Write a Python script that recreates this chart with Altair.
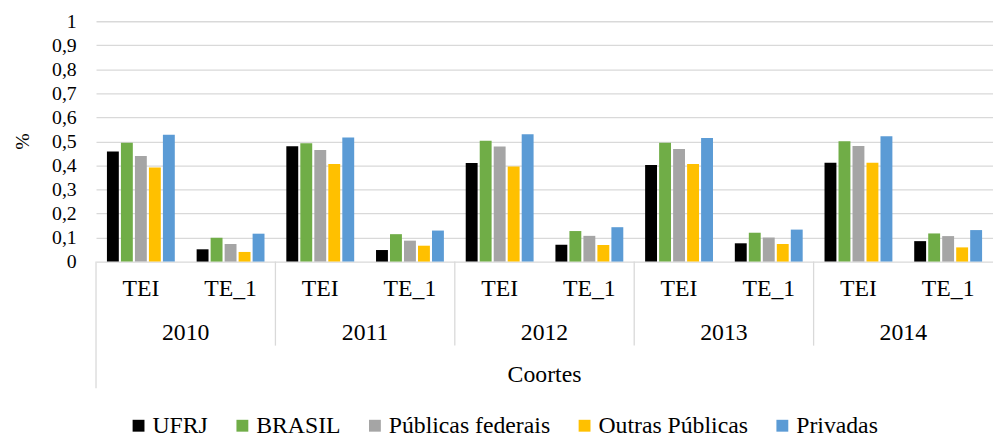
import altair as alt
import pandas as pd

years = ["2010", "2011", "2012", "2013", "2014"]
types = ["TEI", "TE_1"]
series = ["UFRJ", "BRASIL", "Públicas federais", "Outras Públicas", "Privadas"]
colors = ["#000000", "#70AD47", "#A5A5A5", "#FFC000", "#5B9BD5"]

ufrj = [0.458, 0.051, 0.480, 0.048, 0.410, 0.070, 0.402, 0.076, 0.411, 0.085]
brasil = [0.494, 0.099, 0.492, 0.114, 0.503, 0.127, 0.494, 0.120, 0.501, 0.117]
federais = [0.439, 0.073, 0.464, 0.087, 0.479, 0.107, 0.468, 0.100, 0.481, 0.106]
outras = [0.391, 0.040, 0.406, 0.066, 0.396, 0.069, 0.406, 0.073, 0.411, 0.059]
privadas = [0.528, 0.116, 0.516, 0.129, 0.530, 0.143, 0.514, 0.133, 0.521, 0.131]

y_ticks = [0, 0.1, 0.2, 0.3, 0.4, 0.5, 0.6, 0.7, 0.8, 0.9, 1]
x_title = "Coortes"
y_title = "%"

cats = [f"{y}|{t}" for y in years for t in types]
rows = []
for s, vals in zip(series, [ufrj, brasil, federais, outras, privadas]):
    for c, v in zip(cats, vals):
        rows.append({"cat": c, "series": s, "value": v})
df = pd.DataFrame(rows)

lab_df = pd.DataFrame({"cat": cats, "label": [t for y in years for t in types]})
yr_df = pd.DataFrame({"year": years, "idx": list(range(len(years)))})

W, H = 907, 243
FONT = "Liberation Serif"
GRID = "#D9D9D9"

xband = alt.Scale(domain=cats, paddingInner=0.22, paddingOuter=0.11)
xq = alt.Scale(domain=[0, len(years)])

bars = alt.Chart(df).mark_bar().encode(
    x=alt.X("cat:N", scale=xband, axis=None, sort=cats),
    xOffset=alt.XOffset("series:N", scale=alt.Scale(domain=series, paddingInner=0.15, paddingOuter=0.075), sort=series),
    y=alt.Y("value:Q", scale=alt.Scale(domain=[0, 1]),
            axis=alt.Axis(values=y_ticks, title=y_title, grid=True, gridColor=GRID, gridWidth=1.3,
                          domain=False, ticks=False, tickSize=0, labelPadding=20,
                          labelFontSize=20, labelColor="#000000",
                          labelExpr="replace(format(datum.value, '.1~f'), '.', ',')",
                          titleFontSize=20, titleFontWeight="normal", titleColor="#000000",
                          titleX=-74, titleY=121, titleAngle=270, titleBaseline="middle")),
    color=alt.Color("series:N", scale=alt.Scale(domain=series, range=colors), sort=series,
                    legend=alt.Legend(title=None, orient="none", legendX=31, legendY=397, direction="horizontal",
                                      symbolType="square", symbolSize=144, symbolStrokeWidth=0,
                                      labelFontSize=24, labelColor="#000000", labelOffset=2,
                                      columnPadding=22, padding=0, labelLimit=400)),
)

labels = alt.Chart(lab_df).mark_text(fontSize=24, color="#000000", baseline="middle").encode(
    x=alt.X("cat:N", scale=xband, axis=None, sort=cats),
    y=alt.value(271),
    text="label:N",
)

seps = alt.Chart(yr_df).transform_filter("datum.idx > 0").mark_rule(color=GRID, strokeWidth=1.3).encode(
    x=alt.X("idx:Q", scale=xq, axis=None),
    y=alt.value(243),
    y2=alt.value(328),
)

left_line = alt.Chart(yr_df).transform_filter("datum.idx == 0").mark_rule(color=GRID, strokeWidth=1.3).encode(
    x=alt.X("idx:Q", scale=xq, axis=None),
    y=alt.value(243),
    y2=alt.value(371),
)

year_text = alt.Chart(yr_df).transform_calculate(pos="datum.idx + 0.5").mark_text(
    fontSize=24, color="#000000", baseline="middle").encode(
    x=alt.X("pos:Q", scale=xq, axis=None),
    y=alt.value(315),
    text="year:N",
)

coortes = alt.Chart(pd.DataFrame({"t": [x_title]})).mark_text(
    fontSize=24, color="#000000", baseline="middle").encode(
    x=alt.value(W / 2),
    y=alt.value(358),
    text="t:N",
)

chart = alt.layer(bars, labels, seps, left_line, year_text, coortes).resolve_scale(
    x="independent"
).properties(
    width=W, height=H,
    autosize=alt.AutoSizeParams(type="none"),
    padding={"left": 89, "top": 11, "right": 0, "bottom": 175},
    background="white",
).configure(
    font=FONT
).configure_text(
    font=FONT
).configure_axis(
    labelFont=FONT, titleFont=FONT
).configure_legend(
    labelFont=FONT
).configure_view(stroke=None)

chart.save("out.html", embed_options={"renderer": "svg", "actions": False})
